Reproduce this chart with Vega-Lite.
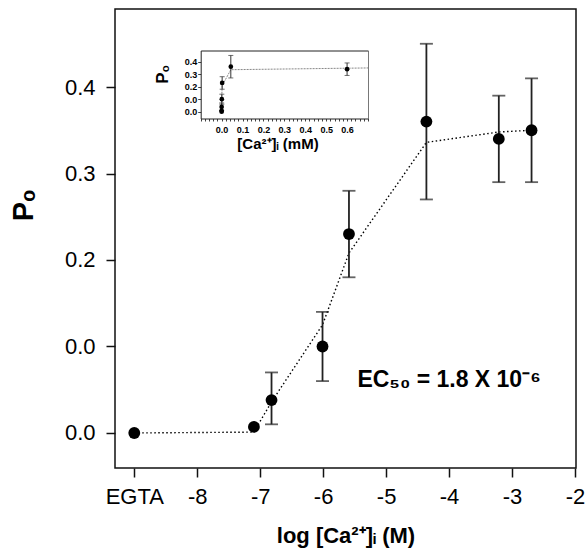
{
  "$schema": "https://vega.github.io/schema/vega-lite/v6.json",
  "width": 461,
  "height": 459,
  "autosize": {"type": "none"},
  "padding": {"left": 115, "top": 9, "right": 11, "bottom": 92},
  "background": "white",
  "config": {
    "font": "Liberation Sans",
    "view": {"stroke": "#111", "strokeWidth": 1.5},
    "axis": {"grid": false, "labelColor": "#000", "titleColor": "#000", "tickColor": "#111"}
  },
  "datasets": {
    "obs": [
      {"logx": -9, "mM": 0, "po": 0.0, "lo": 0.0, "hi": 0.0, "fit": 0.0},
      {"logx": -7.1, "mM": 0.00008, "po": 0.007, "lo": 0.007, "hi": 0.007, "fit": 0.001},
      {"logx": -6.82, "mM": 0.00015, "po": 0.038, "lo": 0.01, "hi": 0.07, "fit": 0.036},
      {"logx": -6.01, "mM": 0.001, "po": 0.1, "lo": 0.06, "hi": 0.14, "fit": 0.125},
      {"logx": -5.59, "mM": 0.0026, "po": 0.23, "lo": 0.18, "hi": 0.28, "fit": 0.208},
      {"logx": -4.36, "mM": 0.044, "po": 0.36, "lo": 0.27, "hi": 0.45, "fit": 0.336},
      {"logx": -3.21, "mM": 0.6, "po": 0.34, "lo": 0.29, "hi": 0.39, "fit": 0.348},
      {"logx": -2.69, "mM": 2.0, "po": 0.35, "lo": 0.29, "hi": 0.41, "fit": 0.35}
    ],
    "note": [
      {"logx": -4.0, "po": 0.053, "label": "EC₅₀ = 1.8 X 10⁻⁶"}
    ]
  },
  "layer": [
    {
      "data": {"name": "obs"},
      "encoding": {
        "x": {
          "field": "logx", "type": "quantitative",
          "scale": {"domain": [-9.306, -1.984], "nice": false, "zero": false},
          "axis": {
            "orient": "bottom", "values": [-9, -8, -7, -6, -5, -4, -3, -2],
            "labelExpr": "datum.value == -9 ? 'EGTA' : '' + datum.value",
            "domain": false, "tickSize": 9, "tickWidth": 1.5,
            "labelFontSize": 22, "labelPadding": 9,
            "title": "log [Ca²⁺]ᵢ (M)", "titleFontSize": 22, "titleFontWeight": "bold",
            "titleBaseline": "alphabetic", "titleY": 74
          }
        },
        "y": {
          "field": "po", "type": "quantitative",
          "scale": {"domain": [-0.0405, 0.4902], "nice": false, "zero": false},
          "axis": {
            "orient": "left", "values": [0, 0.1, 0.2, 0.3, 0.4],
            "labelExpr": "datum.value < 0.15 ? '0.0' : format(datum.value, '.1f')",
            "domain": false, "tickSize": 9, "tickWidth": 1.5,
            "labelFontSize": 22, "labelPadding": 11,
            "title": "Pₒ", "titleFontSize": 29, "titleFontWeight": "bold",
            "titleAngle": 270, "titleBaseline": "alphabetic", "titleAlign": "center",
            "titleX": -83, "titleY": 196
          }
        }
      },
      "layer": [
        {
          "mark": {"type": "line", "stroke": "#000", "strokeWidth": 1.4, "strokeDash": [1.5, 2.5]},
          "encoding": {
            "y": {"field": "fit", "type": "quantitative", "scale": {"domain": [-0.0405, 0.4902], "nice": false, "zero": false}}
          }
        },
        {
          "transform": [{"filter": "datum.hi > datum.lo"}],
          "mark": {"type": "errorbar", "color": "#222", "rule": {"strokeWidth": 1.8}, "ticks": {"size": 13, "thickness": 1.8}},
          "encoding": {
            "y": {"field": "lo", "type": "quantitative", "scale": {"domain": [-0.0405, 0.4902], "nice": false, "zero": false}},
            "y2": {"field": "hi"}
          }
        },
        {
          "mark": {"type": "circle", "size": 140, "color": "#000", "opacity": 1}
        },
        {
          "data": {"name": "note"},
          "mark": {"type": "text", "fontSize": 23, "fontWeight": "bold", "align": "center", "baseline": "alphabetic", "color": "#000"},
          "encoding": {"text": {"field": "label"}}
        }
      ]
    },
    {
      "data": {"name": "obs"},
      "encoding": {
        "x": {
          "field": "mM", "type": "quantitative",
          "scale": {"domain": [-0.1, 0.7], "range": [85.7, 253], "nice": false, "zero": false, "clamp": true},
          "axis": {
            "orient": "bottom", "offset": -349.5,
            "values": [-0.1, -0.08, -0.06, -0.04, -0.02, 0, 0.02, 0.04, 0.06, 0.08, 0.1, 0.12, 0.14, 0.16, 0.18, 0.2, 0.22, 0.24, 0.26, 0.28, 0.3, 0.32, 0.34, 0.36, 0.38, 0.4, 0.42, 0.44, 0.46, 0.48, 0.5, 0.52, 0.54, 0.56, 0.58, 0.6, 0.62, 0.64, 0.66, 0.68, 0.7],
            "labelExpr": "(abs(datum.value * 10 - round(datum.value * 10)) < 0.01 && datum.value > -0.05 && datum.value < 0.65) ? format(datum.value, '.1f') : ''",
            "domain": true, "domainColor": "#222", "domainWidth": 1,
            "tickSize": 2.5, "tickWidth": 0.8,
            "labelFontSize": 9, "labelFontWeight": "bold", "labelPadding": 4,
            "title": "[Ca²⁺]ᵢ (mM)", "titleFontSize": 15, "titleFontWeight": "bold",
            "titleBaseline": "alphabetic", "titleX": 162.5, "titleY": 30
          }
        },
        "y": {
          "field": "po", "type": "quantitative",
          "scale": {"domain": [-0.0544, 0.4896], "range": [109.5, 41.5], "nice": false, "zero": false},
          "axis": {
            "orient": "left", "offset": -85.7, "values": [0, 0.1, 0.2, 0.3, 0.4],
            "labelExpr": "datum.value < 0.15 ? '0.0' : format(datum.value, '.1f')",
            "domain": true, "domainColor": "#222", "domainWidth": 1,
            "tickSize": 3, "tickWidth": 0.8,
            "labelFontSize": 9, "labelFontWeight": "bold", "labelPadding": 1,
            "title": "Pₒ", "titleFontSize": 17, "titleFontWeight": "bold",
            "titleAngle": 270, "titleBaseline": "alphabetic", "titleAlign": "center",
            "titleX": -33, "titleY": 65
          }
        }
      },
      "layer": [
        {
          "mark": {"type": "line", "stroke": "#888", "strokeWidth": 1, "strokeDash": [2, 1]},
          "encoding": {
            "y": {"field": "fit", "type": "quantitative", "scale": {"domain": [-0.0544, 0.4896], "range": [109.5, 41.5], "nice": false, "zero": false}}
          }
        },
        {
          "transform": [{"filter": "datum.hi > datum.lo && datum.mM <= 0.7"}],
          "mark": {"type": "errorbar", "color": "#333", "rule": {"strokeWidth": 1}, "ticks": {"size": 5, "thickness": 1}},
          "encoding": {
            "y": {"field": "lo", "type": "quantitative", "scale": {"domain": [-0.0544, 0.4896], "range": [109.5, 41.5], "nice": false, "zero": false}},
            "y2": {"field": "hi"}
          }
        },
        {
          "transform": [{"filter": "datum.mM <= 0.7"}],
          "mark": {"type": "circle", "size": 22, "color": "#000", "opacity": 1}
        }
      ]
    },
    {
      "data": {"name": "obs"},
      "transform": [{"filter": "datum.mM <= 0.7"}],
      "mark": {"type": "circle", "size": 1, "opacity": 0},
      "encoding": {
        "x": {
          "field": "mM", "type": "quantitative",
          "scale": {"domain": [-0.1, 0.7], "range": [85.7, 253], "nice": false, "zero": false},
          "axis": {"orient": "top", "offset": -41.5, "domain": true, "domainColor": "#222", "domainWidth": 1, "ticks": false, "labels": false, "title": null}
        },
        "y": {
          "field": "po", "type": "quantitative",
          "scale": {"domain": [-0.0544, 0.4896], "range": [109.5, 41.5], "nice": false, "zero": false},
          "axis": {"orient": "right", "offset": -208, "domain": true, "domainColor": "#555", "domainWidth": 0.8, "ticks": false, "labels": false, "title": null}
        }
      }
    }
  ],
  "resolve": {"scale": {"x": "independent", "y": "independent"}, "axis": {"x": "independent", "y": "independent"}}
}
